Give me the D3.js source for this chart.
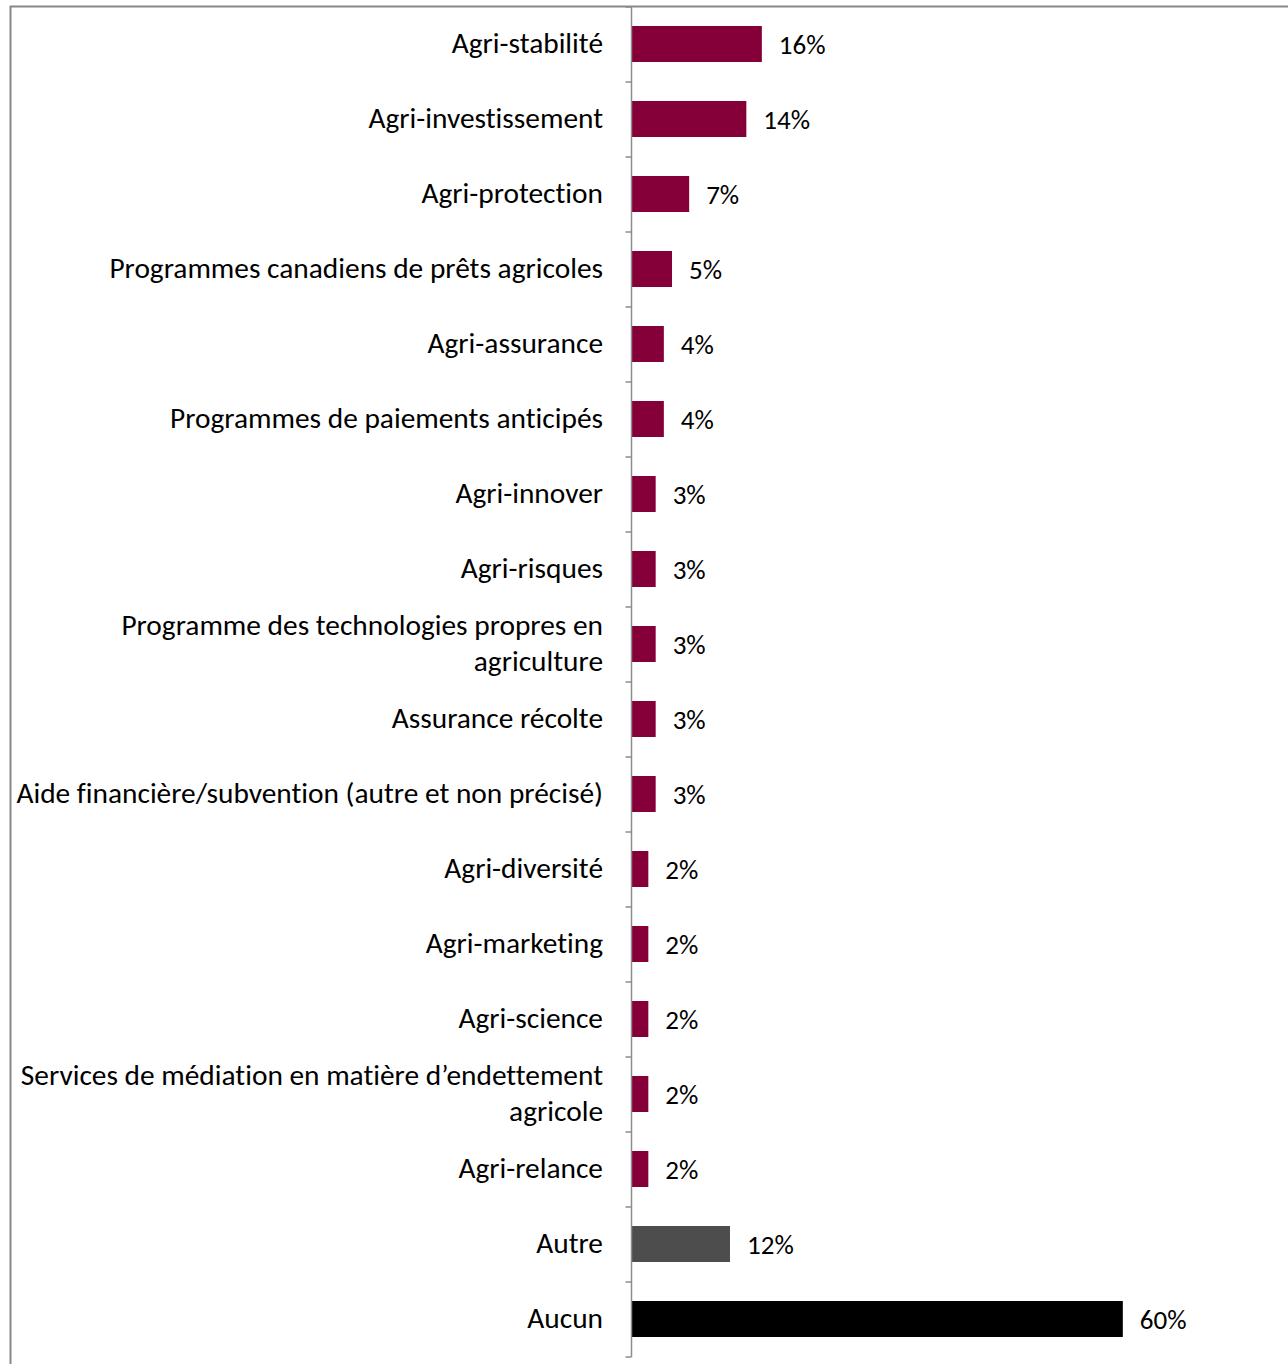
<!DOCTYPE html>
<html>
<head>
<meta charset="utf-8">
<script src="https://cdn.jsdelivr.net/npm/d3@7"></script>
<style>
html,body{margin:0;padding:0;background:#fff;}
svg{display:block;}
text{font-family:Carlito,Calibri,Lato,"Open Sans",sans-serif;fill:#000;font-variant-ligatures:none;}
</style>
</head>
<body>
<svg id="chart" width="1288" height="1364"></svg>
<script>
const categories = [
  "Agri-stabilité",
  "Agri-investissement",
  "Agri-protection",
  "Programmes canadiens de prêts agricoles",
  "Agri-assurance",
  "Programmes de paiements anticipés",
  "Agri-innover",
  "Agri-risques",
  "Programme des technologies propres en|agriculture",
  "Assurance récolte",
  "Aide financière/subvention (autre et non précisé)",
  "Agri-diversité",
  "Agri-marketing",
  "Agri-science",
  "Services de médiation en matière d’endettement|agricole",
  "Agri-relance",
  "Autre",
  "Aucun"
];
const values = [15.9, 14.0, 7.0, 4.9, 3.9, 3.9, 2.9, 2.9, 2.9, 2.9, 2.9, 2.0, 2.0, 2.0, 2.0, 2.0, 12.0, 60.1];
const valueLabels = ["16%","14%","7%","5%","4%","4%","3%","3%","3%","3%","3%","2%","2%","2%","2%","2%","12%","60%"];
const groups = ["program","program","program","program","program","program","program","program","program","program","program","program","program","program","program","program","other","none"];
const groupColors = {program:"#850038", other:"#4d4d4d", none:"#000000"};

const svg = d3.select("#chart");
const axisX = 631.5;
const plotTop = 7, plotBottom = 1357;

const x = d3.scaleLinear().domain([0, 60]).range([axisX + 0.5, 1122]);
const y = d3.scaleBand().domain(categories).range([plotTop, plotBottom]).paddingInner(0.52).paddingOuter(0.26);

// frame (top and left)
svg.append("line").attr("x1",10).attr("x2",1288).attr("y1",6.5).attr("y2",6.5)
  .attr("stroke","#888").attr("stroke-width",2);
svg.append("line").attr("x1",10.5).attr("x2",10.5).attr("y1",6).attr("y2",1364)
  .attr("stroke","#888").attr("stroke-width",2);

// bars
svg.selectAll("rect.bar").data(categories).enter().append("rect")
  .attr("class","bar")
  .attr("x", x(0))
  .attr("y", d => y(d) - 0.5)
  .attr("width", (d,i) => x(values[i]) - x(0))
  .attr("height", y.bandwidth())
  .attr("fill", (d,i) => groupColors[groups[i]]);

// axis line and ticks at band boundaries
svg.append("line").attr("x1",axisX).attr("x2",axisX).attr("y1",plotTop).attr("y2",plotBottom)
  .attr("stroke","#8c8c8c").attr("stroke-width",1.5);
d3.range(categories.length + 1).forEach(i => {
  const yy = plotTop + i * (plotBottom - plotTop) / categories.length;
  svg.append("line").attr("x1",axisX - 6).attr("x2",axisX).attr("y1",yy).attr("y2",yy)
    .attr("stroke","#8c8c8c").attr("stroke-width",1.5);
});

// category labels
const labelG = svg.append("g");
const labelFont = 24;
categories.forEach((c,i) => {
  const lines = c.split("|");
  const cy = y(c) + y.bandwidth()/2 - 1.5;
  const lh = 36;
  const t = labelG.append("text")
    .attr("text-anchor","end")
    .attr("font-size", labelFont)
    .attr("x", 603);
  lines.forEach((ln,k) => {
    t.append("tspan").attr("x",603)
      .attr("y", cy + (k - (lines.length-1)/2) * lh)
      .attr("dy","0.35em")
      .text(ln);
  });
});
// fit label font so the longest line spans the reference width
let maxW = 0;
labelG.selectAll("tspan").each(function(){ maxW = Math.max(maxW, this.getComputedTextLength()); });
const fitted = labelFont * 587 / maxW;
labelG.selectAll("text").attr("font-size", fitted);

// value labels
const valG = svg.append("g");
categories.forEach((c,i) => {
  valG.append("text")
    .attr("x", x(values[i]) + 17)
    .attr("y", y(c) + y.bandwidth()/2 + 0.5)
    .attr("dy","0.35em")
    .attr("font-size", fitted * 0.92)
    .text(valueLabels[i]);
});
</script>
</body>
</html>
